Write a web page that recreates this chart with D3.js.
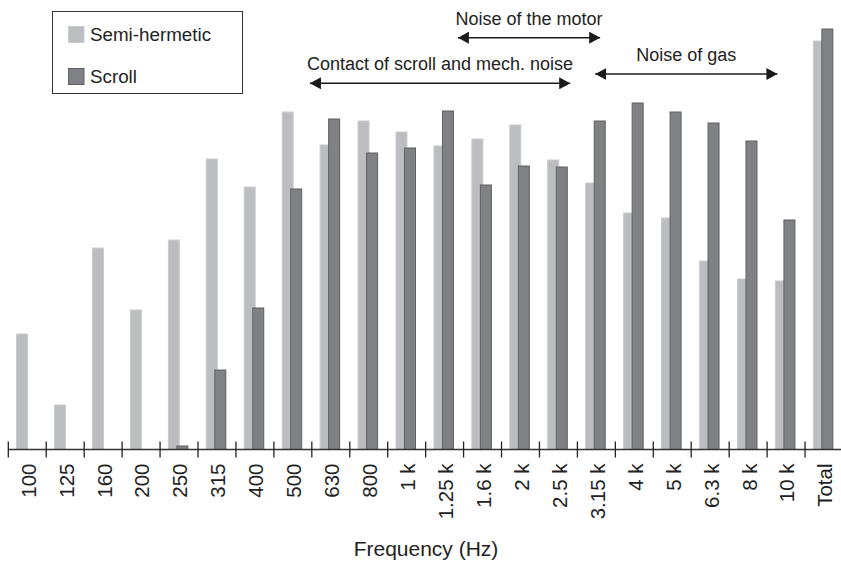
<!DOCTYPE html>
<html>
<head>
<meta charset="utf-8">
<script src="https://cdn.jsdelivr.net/npm/d3@7"></script>
<style>
  body { margin: 0; background: #fff; }
  svg { display: block; font-family: "Liberation Sans", Arial, sans-serif; }
</style>
</head>
<body>
<svg id="chart" width="841" height="563"></svg>
<script>
const categories = ["100","125","160","200","250","315","400","500","630","800","1 k","1.25 k","1.6 k","2 k","2.5 k","3.15 k","4 k","5 k","6.3 k","8 k","10 k","Total"];
const semiHermetic = [11.6, 4.5, 20.2, 14.0, 21.0, 29.1, 26.3, 33.8, 30.5, 32.9, 31.8, 30.4, 31.1, 32.5, 29.0, 26.7, 23.7, 23.2, 18.9, 17.1, 16.9, 40.9];
const scroll = [null, null, null, null, 0.4, 8.0, 14.2, 26.1, 33.1, 29.7, 30.2, 33.9, 26.5, 28.4, 28.3, 32.9, 34.7, 33.8, 32.7, 30.9, 23.0, 42.1];
const seriesNames = ["Semi-hermetic", "Scroll"];
const annotations = [
  { label: "Noise of the motor", from: "1.25 k", fromFrac: 0.85, to: "3.15 k", toFrac: 0.6, level: 0 },
  { label: "Contact of scroll and mech. noise", from: "630", fromFrac: -0.05, to: "2.5 k", toFrac: 0.81, level: 2 },
  { label: "Noise of gas", from: "3.15 k", fromFrac: 0.47, to: "10 k", toFrac: 0.27, level: 1 }
];
const xTitle = "Frequency (Hz)";

const svg = d3.select("#chart");
const baseY = 449.5;
const x = d3.scaleBand().domain(categories).range([8.3, 8.3 + 22 * 37.94]).padding(0);
const y = d3.scaleLinear().domain([0, 10]).range([baseY, baseY - 100]);
const bw = x.bandwidth();

const colors = { fill: ["#bcbdc1", "#808185"], stroke: ["#cbccd0", "#606165"] };

const data = categories.map((c, i) => ({ c, v: [semiHermetic[i], scroll[i]] }));

// Semi-hermetic bars
svg.append("g").selectAll("rect")
  .data(data.filter(d => d.v[0] != null))
  .join("rect")
  .attr("x", d => x(d.c) + 0.205 * bw + 0.5)
  .attr("y", d => y(d.v[0]) + 0.5)
  .attr("width", 0.29 * bw)
  .attr("height", d => baseY - y(d.v[0]) - 0.5)
  .attr("fill", colors.fill[0])
  .attr("stroke", colors.stroke[0])
  .attr("stroke-width", 1);

// Scroll bars
svg.append("g").selectAll("rect")
  .data(data.filter(d => d.v[1] != null))
  .join("rect")
  .attr("x", d => x(d.c) + 0.43 * bw + 0.5)
  .attr("y", d => y(d.v[1]) + 0.5)
  .attr("width", 0.29 * bw)
  .attr("height", d => baseY - y(d.v[1]) - 0.5)
  .attr("fill", colors.fill[1])
  .attr("stroke", colors.stroke[1])
  .attr("stroke-width", 1);

// Axis
const axisG = svg.append("g");
axisG.append("line")
  .attr("x1", x.range()[0]).attr("x2", 841)
  .attr("y1", baseY).attr("y2", baseY)
  .attr("stroke", "#333").attr("stroke-width", 1.3);
axisG.selectAll("line.tick")
  .data(categories)
  .join("line")
  .attr("class", "tick")
  .attr("x1", d => x(d)).attr("x2", d => x(d))
  .attr("y1", baseY - 8).attr("y2", baseY + 8)
  .attr("stroke", "#222").attr("stroke-width", 1.3);
axisG.selectAll("text.lbl")
  .data(categories)
  .join("text")
  .attr("class", "lbl")
  .attr("transform", d => `translate(${x(d) + bw / 2 + 1},${baseY + 14}) rotate(-90)`)
  .attr("text-anchor", "end")
  .attr("dy", "0.36em")
  .attr("font-size", 20.5)
  .attr("fill", "#222")
  .text(d => d);

svg.append("text")
  .attr("x", 426).attr("y", 556)
  .attr("text-anchor", "middle")
  .attr("font-size", 21)
  .attr("fill", "#222")
  .text(xTitle);

// Legend
const lg = svg.append("g");
lg.append("rect").attr("x", 52.5).attr("y", 11.5).attr("width", 190).attr("height", 82)
  .attr("fill", "#fff").attr("stroke", "#333").attr("stroke-width", 1);
seriesNames.forEach((n, i) => {
  const yy = 26 + i * 42;
  lg.append("rect").attr("x", 68.5).attr("y", yy + 0.5).attr("width", 15.5).attr("height", 16)
    .attr("fill", colors.fill[i]).attr("stroke", colors.stroke[i]);
  lg.append("text").attr("x", 90).attr("y", yy + 14.5)
    .attr("font-size", 18.8).attr("fill", "#222").text(n);
});

// Annotations
const defs = svg.append("defs");
defs.append("marker").attr("id", "ah").attr("viewBox", "0 0 11 12")
  .attr("refX", 11).attr("refY", 6).attr("markerWidth", 11).attr("markerHeight", 12)
  .attr("markerUnits", "userSpaceOnUse").attr("orient", "auto-start-reverse")
  .append("path").attr("d", "M0,0 L11,6 L0,12 Z").attr("fill", "#1a1a1a");

const levelY = [37.7, 74, 83.3];
const ann = svg.append("g");
annotations.forEach(a => {
  const x1 = x(a.from) + a.fromFrac * bw;
  const x2 = x(a.to) + a.toFrac * bw;
  const ly = levelY[a.level];
  ann.append("line").attr("x1", x1).attr("x2", x2).attr("y1", ly).attr("y2", ly)
    .attr("stroke", "#1a1a1a").attr("stroke-width", 1.5)
    .attr("marker-start", "url(#ah)").attr("marker-end", "url(#ah)");
  ann.append("text").attr("x", (x1 + x2) / 2).attr("y", ly - 13)
    .attr("text-anchor", "middle").attr("font-size", 18).attr("fill", "#222")
    .text(a.label);
});
</script>
</body>
</html>
